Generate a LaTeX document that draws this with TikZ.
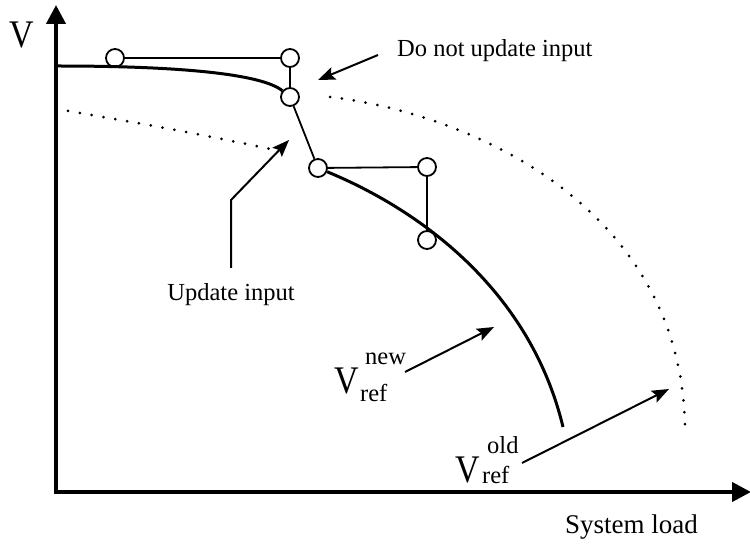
\documentclass[tikz,border=0pt]{standalone}
\usepackage{fontspec}
\setmainfont{Liberation Serif}
\usetikzlibrary{arrows.meta}

\tikzset{
  pt/.style={circle, draw, fill=white, line width=1.8pt, minimum size=18pt, inner sep=0pt},
  thin/.style={line width=1.8pt},
  curve/.style={line width=3pt},
  dotcurve/.style={line width=3pt, line cap=round, dash pattern=on 0pt off 12pt},
  axis/.style={line width=4pt, -{Triangle[length=19pt,width=19pt]}},
  pointer/.style={line width=2pt, -{Stealth[length=17pt,width=13pt,inset=3pt]}},
  lbl/.style={inner sep=0pt, font=\fontsize{24.5}{28}\selectfont},
  bigV/.style={inner sep=0pt, font=\fontsize{34}{40}\selectfont}
}

\begin{document}
\begin{tikzpicture}[x=1pt, y=-1pt]
  \useasboundingbox (0,0) rectangle (750,545);

  % axes
  \coordinate (origin) at (56,492);
  \coordinate (ytop) at (56,5);
  \coordinate (xend) at (751,492);
  \draw[axis] (56,494) -- (ytop);
  \draw[axis] (54,492) -- (xend);
  \node[bigV, anchor=base] (vaxis) at (22,48) {\scalebox{1}[1.15]{V}};
  \node[lbl, anchor=base west, font=\fontsize{27}{30}\selectfont] (load) at (565,533) {System load};

  % old reference characteristic (dotted)
  \coordinate (o1) at (68,111);
  \coordinate (o2) at (275,150);
  \coordinate (o3) at (330,97);
  \coordinate (o4) at (685,425);
  \draw[dotcurve] (o1) .. controls (140,123) and (210,136) .. (o2);
  \draw[dotcurve] (o3) .. controls (480,115) and (680,212) .. (o4);

  % operating points
  \node[pt] (c1) at (115,58) {};
  \node[pt] (c2) at (290,58) {};
  \node[pt] (c3) at (290,97) {};
  \node[pt] (c4) at (318,168) {};
  \node[pt] (c5) at (427,167) {};
  \node[pt] (c6) at (427,240) {};

  % new reference characteristic
  \coordinate (n0) at (58,66);
  \coordinate (n1) at (563,427);
  \draw[curve] (n0) .. controls (180,66) and (262,74) .. (c3);
  \draw[curve] (c4) .. controls (420,210) and (530,290) .. (n1);

  % iteration steps
  \draw[thin] (c1) -- (c2);
  \draw[thin] (c2) -- (c3);
  \draw[thin] (c3) -- (c4);
  \draw[thin] (c4) -- (c5);
  \draw[thin] (c5) -- (c6);

  % annotations
  \node[lbl, anchor=base west] (noupd) at (397,57) {Do not update input};
  \coordinate (noupdS) at (378,55);
  \coordinate (noupdT) at (318,80);
  \draw[pointer] (noupdS) -- (noupdT);

  \node[lbl, anchor=base] (upd) at (231,301) {Update input};
  \coordinate (updS) at (231,268);
  \coordinate (updK) at (231,200);
  \coordinate (updT) at (289,140);
  \draw[pointer] (updS) -- (updK) -- (updT);

  \node[bigV, anchor=base west] (vnew) at (334,393) {\scalebox{1}[1.15]{V}};
  \node[lbl, anchor=base west] (vnewsup) at (365,365) {new};
  \node[lbl, anchor=base west] (vnewsub) at (360,402) {ref};
  \coordinate (newS) at (405,372);
  \coordinate (newT) at (494,327);
  \draw[pointer] (newS) -- (newT);

  \node[bigV, anchor=base west] (vold) at (455,482) {\scalebox{1}[1.15]{V}};
  \node[lbl, anchor=base west] (voldsup) at (487,453) {old};
  \node[lbl, anchor=base west] (voldsub) at (482,483) {ref};
  \coordinate (oldS) at (522,463);
  \coordinate (oldT) at (669,389);
  \draw[pointer] (oldS) -- (oldT);
\end{tikzpicture}
\end{document}
